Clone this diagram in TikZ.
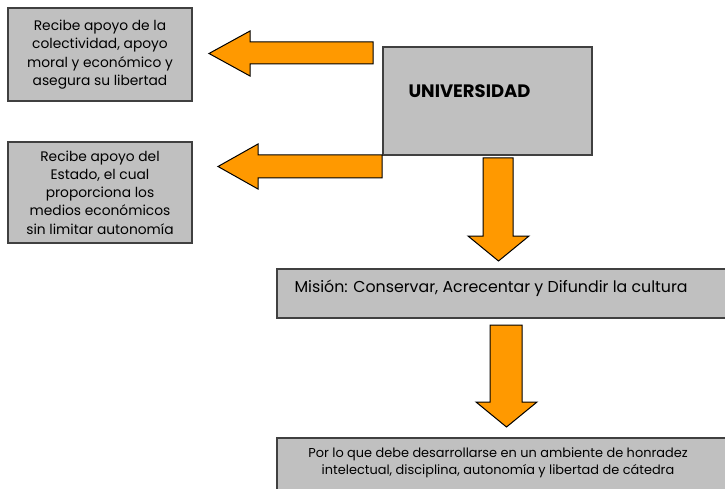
\documentclass[tikz,border=0pt]{standalone}
\usepackage{fontspec}
\setmainfont{Poppins}
\usepackage{xcolor}
\definecolor{uniGris} {RGB}{192,192,192}
\definecolor{uniBorde}{RGB}{ 64, 64, 64}
\definecolor{uniNaran}{RGB}{255,153,  0}
\usepackage{tikz}
\usetikzlibrary{positioning,calc}

\begin{document}
\begin{tikzpicture}[
  x=1pt, y=-1pt,
  caja/.style={draw=uniBorde, line width=1.3pt, fill=uniGris, inner sep=0pt},
  texto/.style={font=\fontsize{13.8}{18.3}\selectfont, align=center},
  flecha/.style={draw=black, line width=1pt, fill=uniNaran, line join=miter},
]
  \useasboundingbox (0,0) rectangle (725,489);
  \clip (0,0) rectangle (725,489);

  % Cajas de la izquierda
  \node[caja, texto, minimum width=184pt, minimum height=93pt] (colectiv) at (100,54.5)
    {Recibe apoyo de la\\colectividad, apoyo\\moral y económico y\\asegura su libertad};
  \node[caja, texto, minimum width=184pt, minimum height=101pt] (estado) at (100,192.5)
    {Recibe apoyo del\\Estado, el cual\\proporciona los\\medios económicos\\sin limitar autonomía};

  % Universidad
  \node[caja, minimum width=209pt, minimum height=108pt] (univ) at (487.5,101) {};
  \node[anchor=west, font=\fontsize{18}{20}\bfseries\selectfont] (univtxt) at (405,91) {UNIVERSIDAD};

  % Mision
  \node[caja, minimum width=463pt, minimum height=49pt] (mision) at (508.5,293.5) {};
  \node[anchor=west, font=\fontsize{15.8}{18}\selectfont] (misiontxt) at (291,288)
    {Misión: Conservar, Acrecentar y Difundir la cultura};

  % Ambiente
  \node[caja, minimum width=463pt, minimum height=62pt] (ambiente) at (508.5,469) {};
  \node[texto, font=\fontsize{12.9}{17}\selectfont] (ambtxt) at (498,463)
    {Por lo que debe desarrollarse en un ambiente de honradez\\intelectual, disciplina, autonomía y libertad de cátedra};

  % Flechas
  \draw[flecha] (373,42) -- (250,42) -- (250,31) -- (209,53.5)
    -- (250,76) -- (250,64) -- (373,64) -- cycle;
  \draw[flecha] (382,155) -- (258,155) -- (258,144) -- (218,166.5)
    -- (258,189) -- (258,178) -- (382,178) -- cycle;
  \draw[flecha] (483,158) -- (483,236) -- (468,236) -- (498.5,261)
    -- (529,236) -- (513,236) -- (513,158) -- cycle;
  \draw[flecha] (490,325) -- (490,402) -- (476,402) -- (506.5,427)
    -- (537,402) -- (522,402) -- (522,325) -- cycle;

\end{tikzpicture}
\end{document}
